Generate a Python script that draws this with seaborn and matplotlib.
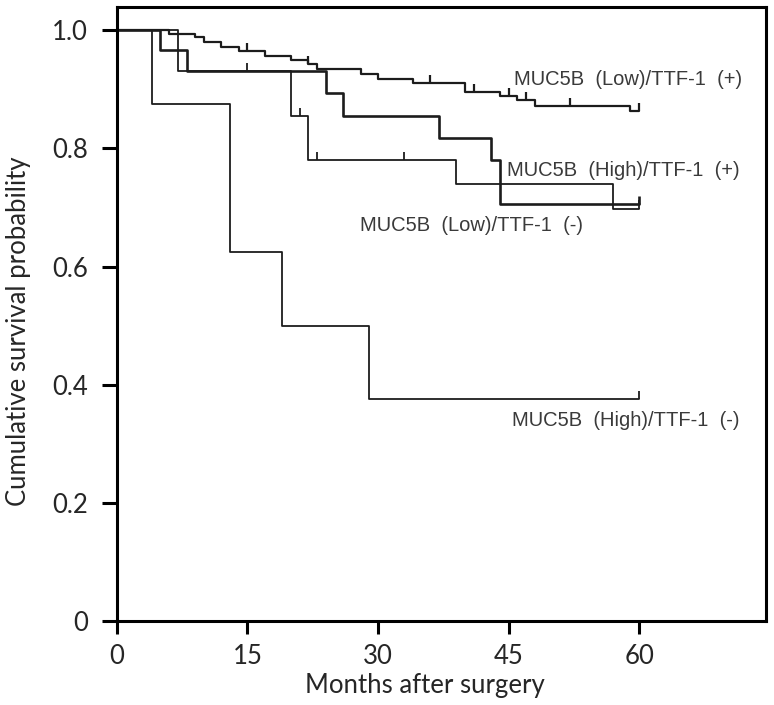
import numpy as np
import pandas as pd
import matplotlib
matplotlib.use("Agg")
import matplotlib.pyplot as plt
import seaborn as sns

# step data (months, survival)
low_pos_t = [0, 6, 9, 10, 12, 14, 17, 20, 22, 23, 28, 30, 34, 40, 44, 46, 48, 59, 60]
low_pos_s = [1.0, 0.994, 0.988, 0.980, 0.972, 0.964, 0.957, 0.949, 0.942, 0.934,
             0.926, 0.918, 0.910, 0.895, 0.888, 0.881, 0.871, 0.863, 0.863]
low_pos_cens = [15, 22, 36, 41, 45, 47, 52, 60]

high_pos_t = [0, 7, 20, 22, 39, 57, 60]
high_pos_s = [1.0, 0.931, 0.855, 0.780, 0.739, 0.698, 0.698]
high_pos_cens = [15, 21, 23, 33, 60]

low_neg_t = [0, 5, 8, 24, 26, 37, 43, 44, 60]
low_neg_s = [1.0, 0.966, 0.931, 0.893, 0.855, 0.818, 0.781, 0.706, 0.706]
low_neg_cens = [60]

high_neg_t = [0, 4, 13, 19, 29, 60]
high_neg_s = [1.0, 0.875, 0.625, 0.5, 0.375, 0.375]
high_neg_cens = [60]

labels = ["MUC5B  (Low)/TTF-1  (+)", "MUC5B  (High)/TTF-1  (+)",
          "MUC5B  (Low)/TTF-1  (-)", "MUC5B  (High)/TTF-1  (-)"]
label_x = [45.6, 44.8, 27.9, 45.4]
label_y = [0.917, 0.763, 0.670, 0.340]

x_ticks = [0, 15, 30, 45, 60]
y_ticks = [0, 0.2, 0.4, 0.6, 0.8, 1.0]
y_ticklabels = ["0", "0.2", "0.4", "0.6", "0.8", "1.0"]

sns.set_style("ticks")
plt.rcParams["font.family"] = ["Lato", "DejaVu Sans"]

fig = plt.figure(figsize=(7.74, 7.05), dpi=100)
ax = fig.add_axes([0.151, 0.119, 0.839, 0.871])

curves = [
    (low_pos_t, low_pos_s, low_pos_cens, 1.6),
    (high_pos_t, high_pos_s, high_pos_cens, 1.3),
    (low_neg_t, low_neg_s, low_neg_cens, 1.9),
    (high_neg_t, high_neg_s, high_neg_cens, 1.3),
]

for t, s, cens, lw in curves:
    df = pd.DataFrame({"month": t, "surv": s})
    sns.lineplot(data=df, x="month", y="surv", drawstyle="steps-post",
                 estimator=None, sort=False, color="#1c1c1c", lw=lw, ax=ax)
    # censor marks: short upward ticks
    idx = np.searchsorted(t, cens, side="right") - 1
    cs = np.array(s)[idx]
    ax.vlines(cens, cs, cs + 0.014, color="#1c1c1c", lw=lw)

for lab, lx, ly in zip(labels, label_x, label_y):
    ax.text(lx, ly, lab, ha="left", va="center", fontsize=14.5,
            family=["Liberation Sans", "DejaVu Sans"], color="#3a3a3a")

ax.set_xlim(0, 74.6)
ax.set_ylim(0, 1.039)
ax.set_xticks(x_ticks)
ax.set_yticks(y_ticks)
ax.set_yticklabels(y_ticklabels)
ax.tick_params(axis="both", direction="out", width=2.2, labelsize=18.5, color="black")
ax.tick_params(axis="y", length=10.8, pad=10)
ax.tick_params(axis="x", length=9.4, pad=7)
for sp in ax.spines.values():
    sp.set_linewidth(2.2)
    sp.set_color("black")

ax.set_xlabel("Months after surgery", fontsize=18.5)
ax.set_ylabel("Cumulative survival probability", fontsize=18.5)
ax.xaxis.set_label_coords(0.475, -0.085)
ax.yaxis.set_label_coords(-0.132, 0.472)

plt.savefig("out.png", dpi=100)
print("finished.")
